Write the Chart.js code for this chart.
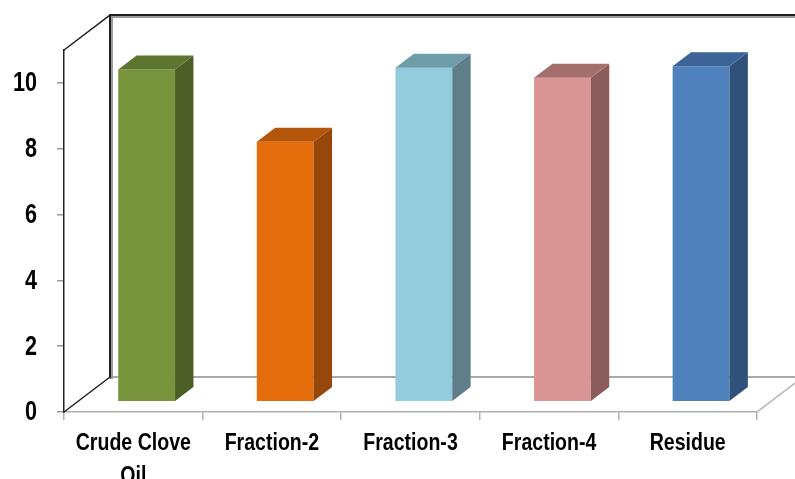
<!DOCTYPE html>
<html>
<head>
<meta charset="utf-8">
<script src="https://cdn.jsdelivr.net/npm/chart.js@4/dist/chart.umd.min.js"></script>
<style>
  html, body { margin: 0; padding: 0; background: #ffffff; }
  #wrap { width: 795px; height: 479px; position: relative; }
</style>
</head>
<body>
<div id="wrap"><canvas id="c" width="795" height="479"></canvas></div>
<script>
// Categories and measured values
const categories = [['Crude Clove', 'Oil'], 'Fraction-2', 'Fraction-3', 'Fraction-4', 'Residue'];
const values = [10.1, 7.9, 10.15, 9.85, 10.2];
const yTicks = [0, 2, 4, 6, 8, 10];

// Face colours per bar: front, top, side
const frontColors = ['#77933C', '#E46C0A', '#93CDDD', '#D99694', '#4F81BD'];
const topColors   = ['#5E7530', '#B3560A', '#6E9CA9', '#A56F6D', '#3D6496'];
const sideColors  = ['#4B5F27', '#98470A', '#5E7F8A', '#8A5D5C', '#30527A'];

// Oblique depth vector of the box (front plane -> back wall)
const DEPTH_X = 46, DEPTH_Y = -35;
const BAR_FRONT = 0.29;   // where the bar front faces sit in depth
const BAR_DEPTH = 0.40;   // how deep each bar is

const FONT = "'Liberation Sans', Arial, sans-serif";

// Axis labels are set in a condensed bold face: draw them squeezed horizontally
function condensedText(ctx, text, x, y, size, squeeze, align) {
  ctx.save();
  ctx.font = 'bold ' + size + 'px ' + FONT;
  ctx.fillStyle = '#000000';
  ctx.textBaseline = 'middle';
  ctx.textAlign = align;
  ctx.translate(x, y);
  ctx.scale(squeeze, 1);
  ctx.fillText(text, 0, 0);
  ctx.restore();
}

const box3d = {
  id: 'box3d',
  beforeDatasetsDraw(chart) {
    const { ctx, chartArea: a } = chart;
    ctx.save();
    ctx.lineCap = 'square';
    // floor
    ctx.strokeStyle = '#8c8c8c';
    ctx.lineWidth = 1.5;
    ctx.beginPath();
    ctx.moveTo(a.left + DEPTH_X, a.bottom + DEPTH_Y);
    ctx.lineTo(a.right + DEPTH_X, a.bottom + DEPTH_Y);
    ctx.stroke();
    ctx.strokeStyle = '#b0b0b0';
    ctx.beginPath();
    ctx.moveTo(a.right, a.bottom);
    ctx.lineTo(a.right + DEPTH_X, a.bottom + DEPTH_Y);
    ctx.stroke();
    // left wall diagonals
    ctx.strokeStyle = '#222222';
    ctx.lineWidth = 1.5;
    ctx.beginPath();
    ctx.moveTo(a.left, a.bottom);
    ctx.lineTo(a.left + DEPTH_X, a.bottom + DEPTH_Y);
    ctx.moveTo(a.left, a.top);
    ctx.lineTo(a.left + DEPTH_X, a.top + DEPTH_Y);
    ctx.stroke();
    // back wall
    ctx.strokeStyle = '#9a9a9a';
    ctx.lineWidth = 4;
    ctx.beginPath();
    ctx.moveTo(a.left + DEPTH_X + 1, a.bottom + DEPTH_Y);
    ctx.lineTo(a.left + DEPTH_X + 1, a.top + DEPTH_Y + 1);
    ctx.lineTo(a.right + DEPTH_X, a.top + DEPTH_Y + 1);
    ctx.stroke();
    ctx.strokeStyle = '#1e1e1e';
    ctx.lineWidth = 2;
    ctx.beginPath();
    ctx.moveTo(a.left + DEPTH_X, a.bottom + DEPTH_Y);
    ctx.lineTo(a.left + DEPTH_X, a.top + DEPTH_Y);
    ctx.lineTo(a.right + DEPTH_X, a.top + DEPTH_Y);
    ctx.stroke();
    ctx.restore();
    // shift the front faces into the box
    ctx.save();
    ctx.translate(DEPTH_X * BAR_FRONT, DEPTH_Y * BAR_FRONT);
  },
  afterDatasetsDraw(chart) {
    const { ctx } = chart;
    ctx.restore();
    const ox = DEPTH_X * BAR_FRONT, oy = DEPTH_Y * BAR_FRONT;
    const dx = DEPTH_X * BAR_DEPTH, dy = DEPTH_Y * BAR_DEPTH;
    chart.getDatasetMeta(0).data.forEach((bar, i) => {
      const p = bar.getProps(['x', 'y', 'base', 'width'], true);
      const l = p.x - p.width / 2 + ox, r = p.x + p.width / 2 + ox;
      const t = p.y + oy, b = p.base + oy;
      // side face
      ctx.fillStyle = sideColors[i];
      ctx.beginPath();
      ctx.moveTo(r, t);
      ctx.lineTo(r + dx, t + dy);
      ctx.lineTo(r + dx, b + dy);
      ctx.lineTo(r, b);
      ctx.closePath();
      ctx.fill();
      // top face
      ctx.fillStyle = topColors[i];
      ctx.beginPath();
      ctx.moveTo(l, t);
      ctx.lineTo(l + dx, t + dy);
      ctx.lineTo(r + dx, t + dy);
      ctx.lineTo(r, t);
      ctx.closePath();
      ctx.fill();
    });
  },
  afterDraw(chart) {
    const { ctx, scales } = chart;
    // category labels under the floor
    const xs = scales.x;
    xs.ticks.forEach((tk, i) => {
      const x = xs.getPixelForTick(i);
      const lines = [].concat(categories[i]);
      lines.forEach((ln, j) => condensedText(ctx, ln, x, 444 + j * 33, 23, 0.85, 'center'));
    });
    // value labels left of the axis
    const ys = scales.y;
    ys.ticks.forEach(tk => {
      const y = ys.getPixelForValue(tk.value);
      condensedText(ctx, String(tk.value), 37, y + 1, 27, 0.8, 'right');
    });
  }
};

new Chart(document.getElementById('c'), {
  type: 'bar',
  data: {
    labels: categories,
    datasets: [{
      data: values,
      backgroundColor: frontColors,
      borderWidth: 0,
      categoryPercentage: 1.0,
      barPercentage: 0.41,
      clip: false
    }]
  },
  options: {
    responsive: false,
    animation: false,
    devicePixelRatio: 1,
    layout: { padding: { top: 50, right: 38, left: 0, bottom: 0 } },
    plugins: { legend: { display: false }, tooltip: { enabled: false } },
    scales: {
      x: {
        grid: { drawOnChartArea: false, drawTicks: true, tickLength: 8, color: '#b0b0b0', lineWidth: 1.5 },
        border: { color: '#b0b0b0', width: 1.5 },
        ticks: { display: false, autoSkip: false },
        afterFit(scale) { scale.height = 67; }
      },
      y: {
        min: 0,
        max: 11,
        grid: { drawOnChartArea: false, drawTicks: true, tickLength: 7, color: '#9a9a9a', lineWidth: 1.5 },
        border: { color: '#222222', width: 1.5 },
        ticks: { display: false, stepSize: 2 },
        afterBuildTicks(scale) {
          scale.ticks = yTicks.map(v => ({ value: v }));
        },
        afterFit(scale) { scale.width = 64; }
      }
    }
  },
  plugins: [box3d]
});
</script>
</body>
</html>
